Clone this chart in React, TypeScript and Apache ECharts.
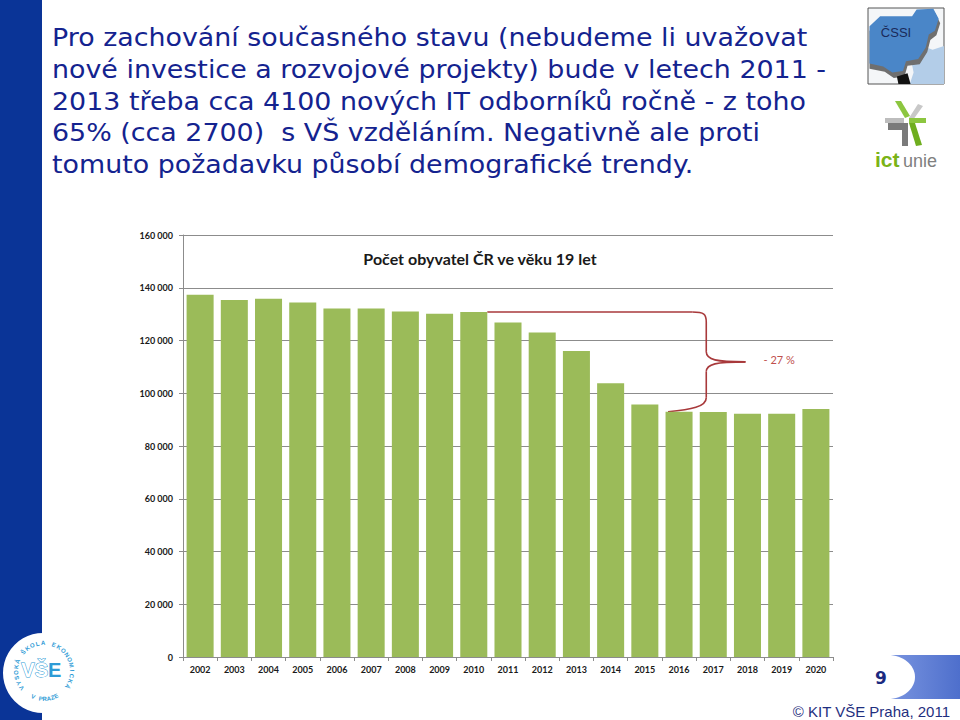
import React, { useEffect, useRef } from "react";
import * as echarts from "echarts";

const years = ["2002","2003","2004","2005","2006","2007","2008","2009","2010","2011","2012","2013","2014","2015","2016","2017","2018","2019","2020"];
const population = [137300,135400,135800,134400,132100,132100,131000,130100,130800,126800,123000,116000,103800,95700,93000,92900,92200,92200,94000];
const chartTitle = "Počet obyvatel ČR ve věku 19 let";
const braceLabel = "- 27 %";
const braceFromIndex = 8;  // 2010
const braceToIndex = 14;   // 2016
const bodyLines = [
  "Pro zachování současného stavu (nebudeme li uvažovat",
  "nové investice a rozvojové projekty) bude v letech 2011 -",
  "2013 třeba cca 4100 nových IT odborníků ročně - z toho",
  "65% (cca 2700)  s VŠ vzděláním. Negativně ale proti",
  "tomuto požadavku působí demografické trendy.",
];
const footerText = "© KIT VŠE Praha, 2011";
const slideNumber = "9";
const circleTop = "VYSOKÁ ŠKOLA EKONOMICKÁ";
const circleBottom = "V PRAZE";

function fmt(v: number) {
  const s = String(v);
  return s.replace(/\B(?=(\d{3})+(?!\d))/g, " ");
}

export default function App() {
  const ref = useRef<HTMLDivElement>(null);
  useEffect(() => {
    const chart = echarts.init(ref.current!, null, { renderer: "svg" });
    const gap = 0.21;
    chart.setOption({
      animation: false,
      backgroundColor: "#ffffff",
      textStyle: { fontFamily: "Lato" },
      title: {
        text: chartTitle,
        left: "center",
        top: 245,
        textStyle: { fontFamily: "Lato", fontSize: 16, fontWeight: "bold", color: "#1a1a1a" },
      },
      grid: { left: 183, right: 127, top: 235, bottom: 63 },
      xAxis: {
        type: "category",
        data: years,
        axisLine: { lineStyle: { color: "#8c8c8c", width: 1 } },
        axisTick: { show: true, length: 4, lineStyle: { color: "#8c8c8c" } },
        axisLabel: { interval: 0, fontSize: 9, fontWeight: "bold", color: "#1a1a1a", margin: 8, fontFamily: "Lato" },
      },
      yAxis: {
        type: "value",
        min: 0,
        max: 160000,
        interval: 20000,
        axisLine: { show: true, lineStyle: { color: "#8c8c8c", width: 1 } },
        axisTick: { show: true, length: 4, lineStyle: { color: "#8c8c8c" } },
        splitLine: { lineStyle: { color: "#8c8c8c", width: 1 } },
        axisLabel: { fontSize: 9, fontWeight: "bold", color: "#1a1a1a", margin: 10, fontFamily: "Lato", formatter: (v: number) => fmt(v) },
      },
      series: [
        {
          type: "bar",
          data: population,
          barCategoryGap: "21%",
          itemStyle: { color: "#9bbb59" },
        },
      ],
    });

    const px = (i: number, v: number) => chart.convertToPixel({ gridIndex: 0 }, [i, v]) as number[];
    const catW = px(1, 0)[0] - px(0, 0)[0];
    const bw = catW * (1 - gap);
    const xs = px(braceFromIndex, 0)[0] + bw / 2;
    const yT = px(braceFromIndex, population[braceFromIndex])[1];
    const yB = px(braceToIndex, population[braceToIndex])[1];
    const xb = px(braceToIndex + 1, 0)[0] - 7;
    const xtip = px(braceToIndex + 2, 0)[0] - 2;
    const xe = px(braceToIndex, 0)[0] - 11;
    const yM = (yT + yB) / 2;
    const red = "#a8393b";
    const bs = { stroke: red, lineWidth: 1.6, fill: null };

    const g: any[] = [];
    // left band
    g.push({ type: "rect", shape: { x: 0, y: 0, width: 42, height: 720 }, style: { fill: "#0a3497" } });
    // body text
    bodyLines.forEach((t, i) => {
      g.push({
        type: "text", x: 52, y: 38 + i * 31.6, scaleX: 1.12,
        style: { text: t, fill: "#14238f", fontSize: 24, fontFamily: "DejaVu Sans", verticalAlign: "middle", align: "left" },
      });
    });
    // brace
    g.push({ type: "line", shape: { x1: xs, y1: yT, x2: xb - 14, y2: yT }, style: bs });
    g.push({ type: "bezierCurve", shape: { x1: xb - 14, y1: yT, cpx1: xb - 2, cpy1: yT, cpx2: xb, cpy2: yT + 2, x2: xb, y2: yT + 10 }, style: bs });
    g.push({ type: "line", shape: { x1: xb, y1: yT + 10, x2: xb, y2: yM - 10 }, style: bs });
    g.push({ type: "bezierCurve", shape: { x1: xb, y1: yM - 10, cpx1: xb, cpy1: yM - 2, cpx2: xb + 10, cpy2: yM, x2: xtip, y2: yM }, style: bs });
    g.push({ type: "bezierCurve", shape: { x1: xtip, y1: yM, cpx1: xb + 10, cpy1: yM, cpx2: xb, cpy2: yM + 2, x2: xb, y2: yM + 10 }, style: bs });
    g.push({ type: "line", shape: { x1: xb, y1: yM + 10, x2: xb, y2: yB - 14 }, style: bs });
    g.push({ type: "bezierCurve", shape: { x1: xb, y1: yB - 14, cpx1: xb, cpy1: yB - 5, cpx2: xb - 15, cpy2: yB - 2, x2: xe, y2: yB }, style: bs });
    g.push({ type: "text", x: xtip + 18, y: yM - 2, style: { text: braceLabel, fill: "#c0504d", fontSize: 11, fontFamily: "Lato", verticalAlign: "middle" } });

    // slide number box
    g.push({
      type: "rect", shape: { x: 888, y: 655, width: 72, height: 44 },
      style: { fill: new echarts.graphic.LinearGradient(0, 0, 1, 0, [{ offset: 0, color: "#7a95e0" }, { offset: 1, color: "#4e6fcc" }]) },
    });
    g.push({ type: "ellipse", shape: { cx: 888, cy: 677, rx: 27, ry: 22 }, style: { fill: "#ffffff" } });
    g.push({ type: "text", x: 881, y: 678, style: { text: slideNumber, fill: "#1c2a80", fontSize: 17, fontWeight: "bold", fontFamily: "DejaVu Sans", align: "center", verticalAlign: "middle" } });
    g.push({ type: "text", x: 950, y: 711, style: { text: footerText, fill: "#1f2f80", fontSize: 15, fontFamily: "Liberation Sans", align: "right", verticalAlign: "middle" } });

    // VŠE logo
    const cx = 44, cy = 671, r = 28;
    g.push({ type: "circle", shape: { cx: 43, cy: 673, r: 40 }, style: { fill: "#ffffff" } });
    g.push({ type: "text", x: 48, y: 670, style: { text: "VŠ", fill: "#ffffff", stroke: "#2e9bd6", lineWidth: 1, fontSize: 20, fontWeight: "bold", fontFamily: "Liberation Sans", align: "right", verticalAlign: "middle" } });
    g.push({ type: "text", x: 48, y: 670, style: { text: "E", fill: "#2e9bd6", fontSize: 20, fontWeight: "bold", fontFamily: "Liberation Sans", align: "left", verticalAlign: "middle" } });
    const topChars = circleTop.split("");
    const a0 = 143, a1 = 393;
    topChars.forEach((ch, i) => {
      const th = ((a0 + (a1 - a0) * (i / (topChars.length - 1))) * Math.PI) / 180;
      g.push({
        type: "text", x: cx + r * Math.cos(th), y: cy + r * Math.sin(th), rotation: -(th + Math.PI / 2),
        style: { text: ch, fill: "#2e9bd6", fontSize: 6, fontWeight: "bold", fontFamily: "Liberation Sans", align: "center", verticalAlign: "middle" },
      });
    });
    const botChars = circleBottom.split("");
    const b0 = 113, b1 = 64;
    botChars.forEach((ch, i) => {
      const th = ((b0 + (b1 - b0) * (i / (botChars.length - 1))) * Math.PI) / 180;
      g.push({
        type: "text", x: cx + r * Math.cos(th), y: cy + r * Math.sin(th), rotation: -(th - Math.PI / 2),
        style: { text: ch, fill: "#2e9bd6", fontSize: 6, fontWeight: "bold", fontFamily: "Liberation Sans", align: "center", verticalAlign: "middle" },
      });
    });

    // ČSSI logo
    const bx = 868, by = 8, bW = 76, bH = 76;
    const P = (pts: number[][]) => pts.map(([fx, fy]) => [bx + fx * bW, by + fy * bH]);
    g.push({ type: "rect", shape: { x: bx, y: by, width: bW, height: bH }, style: { fill: "#f4f6f8", stroke: "#555555", lineWidth: 1 } });
    g.push({ type: "polygon", shape: { points: P([[0.55, 0.6], [0.72, 0.5], [0.85, 0.55], [1, 0.5], [1, 1], [0.55, 1], [0.6, 0.85]]) }, style: { fill: "#b3cde8" } });
    g.push({ type: "polygon", shape: { points: P([[0.02, 0.3], [0.18, 0.17], [0.6, 0.17], [0.66, 0.08], [0.88, 0.06], [0.95, 0.2], [0.9, 0.36], [0.82, 0.42], [0.78, 0.58], [0.68, 0.74], [0.52, 0.76], [0.48, 0.9], [0.34, 0.92], [0.22, 0.84], [0.02, 0.8]]) }, style: { fill: "#6f6f6f" } });
    g.push({ type: "polygon", shape: { points: P([[0.02, 0.24], [0.16, 0.11], [0.58, 0.11], [0.64, 0.02], [0.86, 0.01], [0.93, 0.14], [0.88, 0.3], [0.8, 0.35], [0.76, 0.52], [0.66, 0.67], [0.5, 0.7], [0.46, 0.83], [0.32, 0.85], [0.2, 0.77], [0.02, 0.73]]) }, style: { fill: "#4a86c8" } });
    g.push({ type: "polygon", shape: { points: P([[0.38, 0.9], [0.52, 0.86], [0.56, 1], [0.4, 1]]) }, style: { fill: "#111111" } });
    g.push({ type: "text", x: 896, y: 32, style: { text: "ČSSI", fill: "#1a2a5a", fontSize: 13, fontFamily: "Liberation Sans", align: "center", verticalAlign: "middle" } });

    // ict unie logo
    g.push({ type: "polygon", shape: { points: [[895, 101], [901, 101], [910, 116], [905, 118]] }, style: { fill: "#8cc63f" } });
    g.push({ type: "polygon", shape: { points: [[918, 104], [923, 106], [913, 120], [909, 118]] }, style: { fill: "#c8c8c8" } });
    g.push({ type: "polygon", shape: { points: [[885, 118], [904, 118], [904, 123], [885, 123]] }, style: { fill: "#bdbdbd" } });
    g.push({ type: "polygon", shape: { points: [[888, 123], [908, 123], [908, 146], [902, 146], [902, 130], [888, 130]] }, style: { fill: "#7a7a7a" } });
    g.push({ type: "polygon", shape: { points: [[909, 118], [926, 118], [926, 123], [909, 123]] }, style: { fill: "#8cc63f" } });
    g.push({ type: "polygon", shape: { points: [[909, 123], [915, 123], [922, 145], [916, 146]] }, style: { fill: "#6fae1f" } });
    g.push({ type: "text", x: 875, y: 159, style: { text: "ict", fill: "#7ab317", fontSize: 21, fontWeight: "bold", fontFamily: "Liberation Sans", verticalAlign: "middle" } });
    g.push({ type: "text", x: 903, y: 161, style: { text: "unie", fill: "#808080", fontSize: 18, fontFamily: "Liberation Sans", verticalAlign: "middle" } });

    chart.setOption({ graphic: g });
    return () => chart.dispose();
  }, []);
  return <div ref={ref} style={{ position: "absolute", left: 0, top: 0, width: 960, height: 720 }} />;
}
